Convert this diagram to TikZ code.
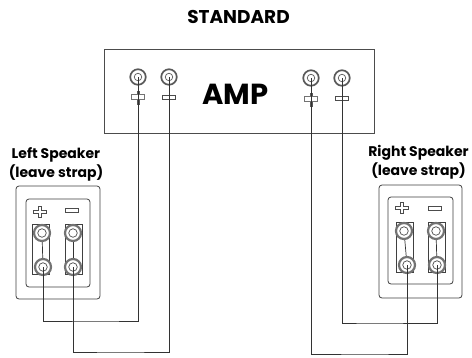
\documentclass[tikz,border=0pt]{standalone}
\usepackage{fontspec}
\setmainfont{Poppins}
\usetikzlibrary{calc}
\tikzset{
    housing/.style={draw=black!75,line width=0.8pt,rounded corners=3pt,fill=white},
    wire/.style={draw=black!80,line width=0.7pt},
    heading/.style={font=\bfseries\fontsize{18.5}{20}\selectfont,inner sep=0pt},
    spklabel/.style={font=\bfseries\fontsize{14}{19}\selectfont,align=center,inner sep=0pt},
    ampjack/.style={circle,draw=black!65,line width=1.7pt,fill=white,minimum size=15.5pt,inner sep=0pt},
    ampcore/.style={circle,draw=black!65,line width=0.7pt,minimum size=7.5pt,inner sep=0pt},
    spkjack/.style={circle,draw=black!55,line width=2.2pt,fill=white,minimum size=16pt,inner sep=0pt},
    spkcore/.style={circle,draw=black!70,line width=0.7pt,minimum size=8.5pt,inner sep=0pt},
    minusbar/.style={rectangle,draw=black!70,line width=0.7pt,fill=white,inner sep=0pt},
    pics/plusmark/.style={code={
        \draw[draw=black!70,line width=0.7pt,fill=white] (-6.5,-1.7) -- (-1.7,-1.7) -- (-1.7,-5.5) -- (1.7,-5.5)
            -- (1.7,-1.7) -- (6.5,-1.7) -- (6.5,1.7) -- (1.7,1.7) -- (1.7,5.5) -- (-1.7,5.5) -- (-1.7,1.7) -- (-6.5,1.7) -- cycle;
    }}
}
\begin{document}
\begin{tikzpicture}[x=1pt,y=-1pt]
    \useasboundingbox (0,0) rectangle (472,357);

    % titles
    \node[heading] (title) at (238.5,16.5) {STANDARD};
    \node[spklabel] (leftlabel) at (56,164) {Left Speaker\\(leave strap)};
    \node[spklabel] (rightlabel) at (418.5,162) {Right Speaker\\(leave strap)};

    % the amplifier
    \draw[draw=black!70,line width=0.9pt] (104,49) rectangle (374,133);
    \node[font=\bfseries\fontsize{29}{32}\selectfont,inner sep=0pt] (amp) at (235.5,94.5) {AMP};

    % the speaker boxes
    \draw[housing] (16,186) rectangle (100,299);
    \draw[housing] (26,199) rectangle (90,287);
    \draw[housing] (379,185) rectangle (462,298);
    \draw[housing] (388,197) rectangle (453,284);

    % the straps behind the speaker jacks
    \foreach \x/\ya/\yb in {41/233/267,74/233/267,404.5/231/265,437/231/265} {
        \draw[draw=black!75,line width=0.7pt,fill=white] (\x-8.5,\ya-8.5) rectangle (\x+8.5,\yb+7.5);
    }

    % the speaker jacks
    \foreach \name/\x/\y in {
        leftplustop/42/233,
        leftplusbot/43/267,
        leftminustop/73/233,
        leftminusbot/73/267,
        rightplustop/404/231,
        rightplusbot/407/265,
        rightminustop/436/231,
        rightminusbot/437/265} {
            \node[spkjack] (\name) at (\x,\y) {};
            \node[spkcore] at (\x,\y) {};
    }

    % the straps between the jacks
    \draw[wire] (leftplustop) -- (leftplusbot);
    \draw[wire] (leftminustop) -- (leftminusbot);
    \draw[wire] (rightplustop) -- (rightplusbot);
    \draw[wire] (rightminustop) -- (rightminusbot);

    % the signs on the speakers
    \pic at (40,212) {plusmark};
    \pic at (402,208) {plusmark};
    \node[minusbar,minimum width=13pt,minimum height=4pt] (leftminus) at (72,210) {};
    \node[minusbar,minimum width=13pt,minimum height=4pt] (rightminus) at (435,208) {};

    % the amplifier signs
    \draw[line width=3pt,draw=black!65] (138,91) -- (138,105);
    \draw[line width=3pt,draw=black!65] (311,93) -- (311,107);
    \node[minusbar,minimum width=13pt,minimum height=4.5pt,draw=black!55] (ampleftplus) at (138,97) {};
    \node[minusbar,minimum width=13pt,minimum height=4.5pt,draw=black!55] (amprightplus) at (311,99) {};
    \node[minusbar,minimum width=13pt,minimum height=4pt] (ampleftminus) at (169,97) {};
    \node[minusbar,minimum width=13pt,minimum height=4pt] (amprightminus) at (342,98) {};

    % the amplifier jacks
    \foreach \name/\x/\y in {
        jackleftplus/138/77,
        jackleftminus/169/77,
        jackrightplus/311/78,
        jackrightminus/342/78} {
            \node[ampjack] (\name) at (\x,\y) {};
            \node[ampcore] at (\x,\y) {};
    }

    % corners of the long runs
    \coordinate (runa) at (100,321);
    \coordinate (runb) at (120,352);
    \coordinate (runc) at (370,323);
    \coordinate (rund) at (370,354);

    % the wires
    \draw[wire] (leftplusbot.center) |- (runa) -| (jackleftplus.center);
    \draw[wire] (leftminusbot.center) |- (runb) -| (jackleftminus.center);
    \draw[wire] (rightplusbot.center) |- (rund) -| (jackrightplus.center);
    \draw[wire] (rightminusbot.center) |- (runc) -| (jackrightminus.center);
\end{tikzpicture}
\end{document}
